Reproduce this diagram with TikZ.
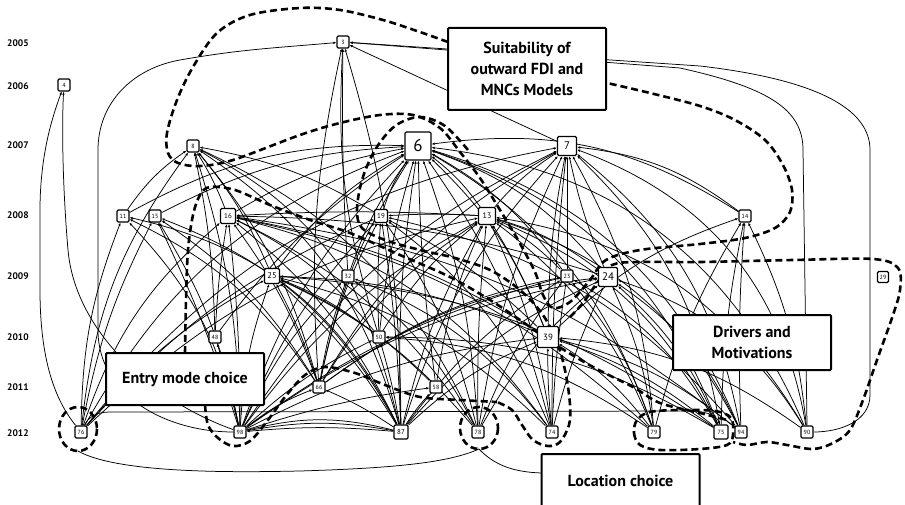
\documentclass[tikz,border=0pt]{standalone}
\usepackage{fontspec}
\setmainfont{PT Sans}
\usetikzlibrary{arrows.meta}
\pgfdeclarelayer{bg}
\pgfsetlayers{bg,main}
\begin{document}
\begin{tikzpicture}[x=1pt,y=-1pt,
  nd/.style={draw, line width=1.3pt, fill=white, rounded corners=1.2pt, minimum width=12pt, minimum height=12pt, inner sep=0pt, font=\fontsize{6}{6}\selectfont},
  e/.style={line width=0.75pt, -{Latex[length=3pt,width=2.6pt]}},
  ln/.style={line width=0.75pt},
  grp/.style={line width=2.6pt, dash pattern=on 7pt off 4pt},
  lab/.style={draw, line width=2pt, fill=white, rounded corners=1pt, align=center, font=\fontsize{16}{21}\selectfont\bfseries, minimum width=158pt, inner sep=0pt},
  yr/.style={font=\fontsize{9.5}{9.5}\selectfont\bfseries, anchor=west, inner sep=0pt}]
\clip (0,0) rectangle (905,505);
\useasboundingbox (0,0) rectangle (905,505);
% years
\node[yr] (y2005) at (7,43) {2005};
\node[yr] (y2006) at (7,86) {2006};
\node[yr] (y2007) at (7,145) {2007};
\node[yr] (y2008) at (7,215) {2008};
\node[yr] (y2009) at (7,276) {2009};
\node[yr] (y2010) at (7,337) {2010};
\node[yr] (y2011) at (7,387) {2011};
\node[yr] (y2012) at (7,433) {2012};
% nodes
\node[nd] (n3) at (343,42) {3};
\node[nd] (n4) at (64,85) {4};
\node[nd] (n8) at (193,146) {8};
\node[nd, minimum width=26pt, minimum height=28pt, font=\fontsize{17}{17}\selectfont] (n6) at (418,146) {6};
\node[nd, minimum size=19pt, font=\fontsize{11}{11}\selectfont] (n7) at (567,146) {7};
\node[nd] (n11) at (123,216) {11};
\node[nd] (n15) at (155,216) {15};
\node[nd, minimum size=15pt, font=\fontsize{7}{7}\selectfont] (n16) at (228,216) {16};
\node[nd, minimum size=13pt, font=\fontsize{7}{7}\selectfont] (n19) at (381,216) {19};
\node[nd, minimum size=17pt, font=\fontsize{8}{8}\selectfont] (n13) at (487,216) {13};
\node[nd] (n14) at (745,216) {14};
\node[nd, minimum size=15pt, font=\fontsize{8.5}{8.5}\selectfont] (n25) at (272,276) {25};
\node[nd] (n32) at (348,276) {32};
\node[nd] (n23) at (567,276) {23};
\node[nd, minimum size=19pt, font=\fontsize{11}{11}\selectfont] (n24) at (608,277) {24};
\node[nd, minimum size=11pt] (n29) at (883,277) {29};
\node[nd] (n48) at (215,337) {48};
\node[nd] (n50) at (379,337) {50};
\node[nd, minimum size=21pt, font=\fontsize{9}{9}\selectfont] (n39) at (548,337) {39};
\node[nd] (n66) at (319,387) {66};
\node[nd] (n58) at (436,387) {58};
\node[nd] (n76) at (81,432) {76};
\node[nd] (n98) at (240,432) {98};
\node[nd, minimum size=14pt, font=\fontsize{7}{7}\selectfont] (n87) at (401,432) {87};
\node[nd] (n78) at (478,432) {78};
\node[nd] (n74) at (552,432) {74};
\node[nd] (n79) at (654,432) {79};
\node[nd, minimum size=14pt] (n75) at (721,432) {75};
\node[nd] (n94) at (741,432) {94};
\node[nd] (n90) at (807,432) {90};
\begin{pgfonlayer}{bg}
% regular edges: lower/upper/bend
\foreach \a/\b/\c in {
 76/8/15, 76/11/10, 76/15/8, 76/16/15, 76/6/20, 76/25/10, 76/13/15, 76/7/20, 76/19/12,
 98/8/-8, 98/11/-15, 98/15/-10, 98/15/-4, 98/16/-3, 98/48/-3, 98/25/8, 98/6/12, 98/19/10, 98/32/10, 98/13/12, 98/23/10, 98/24/12, 98/39/10, 98/50/8, 98/66/8, 98/7/15, 98/58/5,
 87/8/-20, 87/11/-25, 87/16/-12, 87/25/-8, 87/3/-8, 87/6/5, 87/19/-3, 87/32/-5, 87/50/-3, 87/13/8, 87/7/12, 87/23/10, 87/24/12, 87/39/10, 87/66/-5, 87/98/-10, 87/98/-5, 87/98/-14, 87/58/5, 87/15/-20,
 78/6/-8, 78/13/3, 78/32/-12, 78/16/-15, 78/25/-12, 78/19/-10, 78/24/10, 78/23/8, 78/7/8, 78/8/-20,
 74/6/-10, 74/13/-8, 74/19/-15, 74/25/-15, 74/32/-15, 74/39/3, 74/23/3, 74/24/5, 74/7/3, 74/16/-20,
 79/6/-20, 79/7/-12, 79/13/-15, 79/24/-8, 79/39/-10, 79/14/8, 79/23/-10, 79/50/-15, 79/16/-15,
 75/6/-25, 75/7/-18, 75/13/-20, 75/14/5, 75/24/-12, 75/23/-15, 75/39/-10, 75/50/-15, 75/25/-15,
 94/6/-25, 94/7/-20, 94/13/-22, 94/14/3, 94/24/-15, 94/39/-12, 94/19/-18, 94/16/-15,
 90/6/-30, 90/7/-30, 90/13/-25, 90/14/-10, 90/24/-20, 90/39/-15,
 66/6/10, 66/8/-12, 66/16/-8, 66/25/-5, 66/32/5, 66/19/8, 66/13/12, 66/7/15, 66/24/15, 66/23/12, 66/11/-15, 66/15/-12,
 58/13/8, 58/6/3, 58/25/-10,
 50/6/5, 50/25/-8, 50/13/10, 50/16/-12, 50/19/3, 50/3/10,
 48/16/3, 48/8/-5, 48/6/10,
 39/6/-12, 39/7/5, 39/13/-5, 39/16/-10, 39/14/12, 39/25/-10, 39/19/-8,
 32/6/8, 32/8/-12, 32/3/2,
 25/8/-8, 25/6/12,
 23/6/-12, 23/13/-8,
 24/6/-15, 24/7/5, 24/13/-10, 24/16/-8,
 14/6/-20, 14/7/-15,
 13/6/-8, 13/7/8,
 19/6/8, 19/8/-10,
 16/6/10, 16/8/-5,
 11/8/10, 11/6/15,
 15/6/12,
 66/3/8, 13/16/-3, 13/19/-3}
 \draw[e] (n\a) to[bend left=\c] (n\b);
\draw[e] (n23) -- (n7);
\draw[e] (n7) -- (n3);
\draw[e] (n98) to[out=180,in=-90] (98,330) -- (98,150) to[out=90,in=190] (180,60) to[out=10,in=185] (n3);
\draw[e] (n90.east) to[out=0,in=-90] (870,395) -- (870,150) .. controls (870,110) and (820,80) .. (700,66) -- (n3);
\draw[e] (n90.north) -- (803,150) .. controls (803,110) and (770,88) .. (680,68) -- (n3);
\draw[e] (n76) .. controls (55,400) and (40,360) .. (40,290) -- (40,210) .. controls (40,150) and (55,110) .. (n4);
\draw[e] (n98) .. controls (150,400) and (75,330) .. (68,250) .. controls (62,180) and (62,120) .. (n4);
\draw[e] (n76) .. controls (88,418) and (95,412) .. (110,412) -- (690,411) .. controls (710,411) and (718,418) .. (n75);
% label connectors
\coordinate (c76) at (78,451);
\coordinate (c78) at (479,449);
\coordinate (locin) at (541,473);
\draw[ln] (c76) .. controls (120,475) and (250,472) .. (300,471) .. controls (400,468) and (450,462) .. (c78);
\draw[ln] (c78) .. controls (495,466) and (515,472) .. (locin);
% dashed groups
\draw[grp] plot[smooth, tension=0.55] coordinates {(448,42) (417,31) (383,20) (340,10) (300,8) (250,15) (217,33) (193,67) (177,100) (167,133) (168,153) (178,163) (200,166) (233,160) (300,135) (340,123) (380,115) (413,115) (440,128) (460,152) (480,178) (500,210) (518,240) (535,272) (543,295) (553,308) (570,302) (590,280) (606,260) (640,250) (700,244) (745,238) (775,228) (790,212) (792,190) (783,165) (765,140) (735,120) (700,106) (650,93) (607,83)};
\draw[grp] plot[smooth, tension=0.55] coordinates {(468,150) (445,126) (420,117) (395,126) (375,150) (362,180) (357,210) (362,228) (385,240) (420,250) (455,258) (490,270) (520,290) (543,315) (558,345) (566,375) (570,405) (569,425) (560,442) (548,446) (533,440) (522,425) (512,410) (497,402)};
\draw[grp] plot[smooth, tension=0.55] coordinates {(185,353) (186,300) (188,250) (193,215) (200,195) (210,187) (235,190) (270,205) (310,220) (350,233) (400,255) (450,277) (490,300) (520,320) (553,343) (593,367) (633,387) (660,403) (700,413) (727,420)};
\draw[grp] plot[smooth, tension=0.55] coordinates {(205,405) (208,425) (218,438) (233,446) (250,441) (268,420) (285,397) (305,375) (325,367) (355,373) (385,385) (420,397) (460,400) (497,402)};
\draw[grp] (479,428) ellipse[x radius=19, y radius=21];
\draw[grp] (78,429) ellipse[x radius=19, y radius=22];
\draw[grp] plot[smooth, tension=0.55] coordinates {(570,317) (583,303) (597,283) (612,265) (640,262) (700,262) (793,260) (873,259) (898,268) (900,290) (893,315) (877,360) (863,400) (850,430) (833,443) (813,449) (787,445) (767,442) (747,445) (733,442)};
\draw[grp] plot[smooth cycle, tension=0.55] coordinates {(637,420) (634,433) (640,445) (660,450) (700,449) (727,445) (733,435) (731,418) (715,411) (680,410) (650,412)};
\end{pgfonlayer}
% label boxes
\node[lab, minimum height=82pt] (lsuit) at (527,69) {Suitability of\\outward FDI and\\MNCs Models};
\node[lab, minimum height=52pt] (lentry) at (185,379) {Entry mode choice};
\node[lab, minimum height=55pt] (ldrv) at (752,342.5) {Drivers and\\Motivations};
\node[lab, minimum height=54pt] (lloc) at (620.5,481) {Location choice};
\end{tikzpicture}
\end{document}
